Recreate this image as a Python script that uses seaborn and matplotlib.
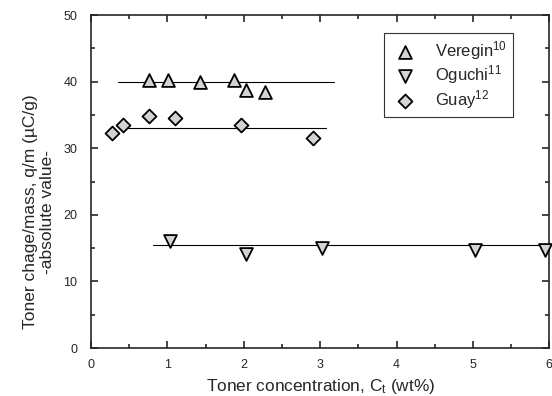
import numpy as np
import pandas as pd
import matplotlib
matplotlib.use('Agg')
import matplotlib.pyplot as plt
import seaborn as sns
from matplotlib.ticker import MultipleLocator

# data
veregin_x = [0.76, 1.01, 1.43, 1.87, 2.03, 2.28]
veregin_y = [40.3, 40.3, 39.9, 40.3, 38.8, 38.4]
oguchi_x = [1.03, 2.03, 3.02, 5.03, 5.94]
oguchi_y = [16.1, 14.1, 15.0, 14.7, 14.8]
guay_x = [0.28, 0.42, 0.76, 1.10, 1.96, 2.90]
guay_y = [32.3, 33.5, 34.8, 34.6, 33.5, 31.5]

# mean lines: (x start, x end, level)
veregin_line = [0.35, 3.18, 40.0]
oguchi_line = [0.81, 6.0, 15.5]
guay_line = [0.42, 3.07, 33.1]

sets = [
    ('Veregin$^{10}$', veregin_x, veregin_y, '^', 85),
    ('Oguchi$^{11}$', oguchi_x, oguchi_y, 'v', 85),
    ('Guay$^{12}$', guay_x, guay_y, 'D', 50),
]

sns.set_style('ticks')
plt.rcParams['font.family'] = ['Liberation Sans', 'DejaVu Sans']
plt.rcParams['mathtext.fontset'] = 'custom'
plt.rcParams['mathtext.rm'] = 'Liberation Sans'
plt.rcParams['mathtext.it'] = 'Liberation Sans'

fig = plt.figure(figsize=(5.52, 3.96), dpi=100)
ax = fig.add_axes([0.165, 0.121, 0.830, 0.841])

for ln in [veregin_line, oguchi_line, guay_line]:
    ax.plot([ln[0], ln[1]], [ln[2], ln[2]], color='black', lw=0.8, zorder=1)

for name, xs, ys, mk, sz in sets:
    d = pd.DataFrame({'x': xs, 'y': ys})
    sns.scatterplot(data=d, x='x', y='y', marker=mk, s=sz, label=name,
                    color='#d3d3d3', edgecolor='black', linewidth=1.3,
                    ax=ax, zorder=3, clip_on=False)

ax.set_xlim(0, 6)
ax.set_ylim(0, 50)
ax.xaxis.set_major_locator(MultipleLocator(1))
ax.xaxis.set_minor_locator(MultipleLocator(0.5))
ax.yaxis.set_major_locator(MultipleLocator(10))
ax.yaxis.set_minor_locator(MultipleLocator(5))
ax.tick_params(which='both', direction='in', top=True, right=True, labelsize=9, width=1.2)
ax.tick_params(axis='y', pad=10)
ax.tick_params(axis='x', pad=8)
ax.tick_params(which='major', length=5)
ax.tick_params(which='minor', length=3)
for sp in ax.spines.values():
    sp.set_linewidth(1.2)

ax.set_xlabel('Toner concentration, C$_\\mathrm{t}$ (wt%)', fontsize=12.4, labelpad=4)
ax.set_ylabel('Toner chage/mass, q/m (\u00b5C/g)\n-absolute value-', fontsize=12.5)
ax.yaxis.set_label_coords(-0.078, 0.41)

leg = ax.legend(title=None, loc='upper right', bbox_to_anchor=(0.921, 0.946),
                fontsize=12, frameon=True, fancybox=False, edgecolor='black',
                borderpad=0.35, handlelength=1.8, handletextpad=0.9,
                labelspacing=0.1, borderaxespad=0)
leg.get_frame().set_linewidth(0.8)

fig.savefig('out.png', dpi=100)
